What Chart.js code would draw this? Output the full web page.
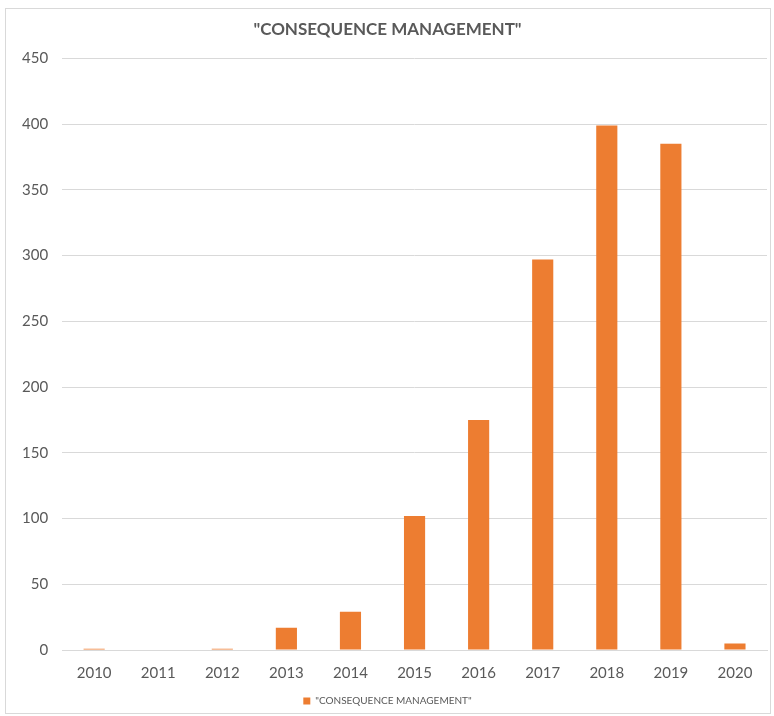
<!DOCTYPE html>
<html>
<head>
<meta charset="utf-8">
<script src="https://cdn.jsdelivr.net/npm/chart.js@4/dist/chart.umd.min.js"></script>
<style>
  html, body { margin: 0; padding: 0; background: #fff; }
  #frame { position: absolute; left: 5px; top: 8px; width: 766px; height: 706px; border: 1px solid #d9d9d9; box-sizing: border-box; }
  #wrap { position: absolute; left: 0; top: 0; width: 774px; height: 716px; }
</style>
</head>
<body>
<div id="frame"></div>
<div id="wrap"><canvas id="c" width="774" height="716"></canvas></div>
<script>
const categories = ["2010","2011","2012","2013","2014","2015","2016","2017","2018","2019","2020"];
const values = [1, 0, 1, 17, 29, 102, 175, 297, 399, 385, 5];
const seriesName = '"CONSEQUENCE MANAGEMENT"';
const chartTitle = '"CONSEQUENCE MANAGEMENT"';

const FONT = "Lato, 'Open Sans', sans-serif";
new Chart(document.getElementById('c'), {
  type: 'bar',
  data: {
    labels: categories,
    datasets: [{
      label: seriesName,
      data: values,
      backgroundColor: '#ED7D31',
      borderWidth: 0,
      barPercentage: 0.33,
      categoryPercentage: 1.0
    }]
  },
  options: {
    responsive: false,
    animation: false,
    layout: { padding: { left: 8, right: 7, top: 15, bottom: 0 } },
    plugins: {
      title: {
        display: true,
        text: chartTitle,
        color: '#595959',
        font: { family: FONT, size: 17, weight: 'bold' },
        padding: { top: 4, bottom: 19 }
      },
      legend: {
        position: 'bottom',
        labels: {
          color: '#595959',
          font: { family: FONT, size: 10 },
          boxWidth: 7, boxHeight: 7,
          padding: 8
        }
      },
      tooltip: { enabled: false }
    },
    scales: {
      x: {
        grid: { display: false },
        border: { color: '#d9d9d9', width: 1 },
        ticks: { color: '#595959', font: { family: FONT, size: 15 }, padding: 6 }
      },
      y: {
        min: 0, max: 450,
        ticks: { stepSize: 50, color: '#595959', font: { family: FONT, size: 15 }, padding: 14 },
        grid: { color: '#d9d9d9', drawTicks: false },
        border: { display: false }
      }
    }
  }
});
</script>
</body>
</html>
